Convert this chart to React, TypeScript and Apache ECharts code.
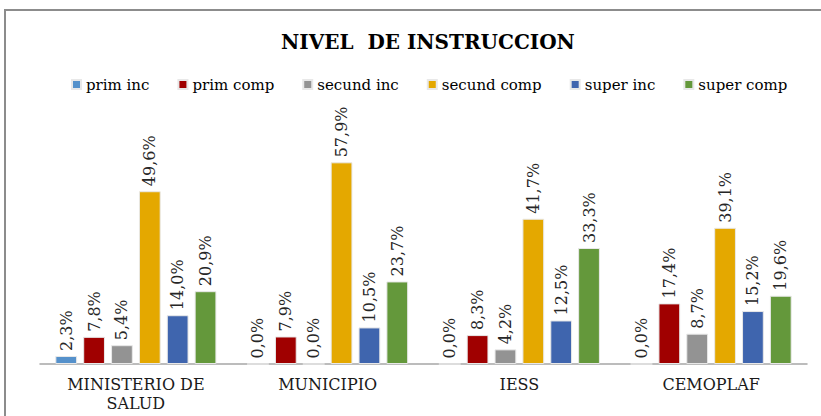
import React, { useEffect, useRef } from "react";
import * as echarts from "echarts";

const categories = ["MINISTERIO DE\nSALUD", "MUNICIPIO", "IESS", "CEMOPLAF"];
const seriesNames = ["prim inc", "prim comp", "secund inc", "secund comp", "super inc", "super comp"];
const primInc = [2.3, 0.0, 0.0, 0.0];
const primComp = [7.8, 7.9, 8.3, 17.4];
const secundInc = [5.4, 0.0, 4.2, 8.7];
const secundComp = [49.6, 57.9, 41.7, 39.1];
const superInc = [14.0, 10.5, 12.5, 15.2];
const superComp = [20.9, 23.7, 33.3, 19.6];
const colors = ["#5591CB", "#A00000", "#939393", "#E4A800", "#3F65AE", "#64983B"];

export default function App() {
  const ref = useRef<HTMLDivElement>(null);
  useEffect(() => {
    const chart = echarts.init(ref.current!, null, { renderer: "svg" });
    const data = [primInc, primComp, secundInc, secundComp, superInc, superComp];
    const font = "DejaVu Serif";
    chart.setOption({
      animation: false,
      backgroundColor: "#ffffff",
      textStyle: { fontFamily: font },
      title: {
        text: "NIVEL  DE INSTRUCCION",
        left: 276,
        top: 27,
        textStyle: { fontFamily: font, fontWeight: "bold", fontSize: 20, color: "#000" },
      },
      legend: {
        top: 72,
        left: 66,
        itemWidth: 9,
        itemHeight: 9,
        itemGap: 28,
        icon: "rect",
        textStyle: { fontFamily: font, fontSize: 15, color: "#000" },
        data: seriesNames,
      },
      grid: { left: 40, right: 14, top: 155, bottom: 52 },
      xAxis: {
        type: "category",
        data: categories,
        axisTick: { show: false },
        axisLine: { lineStyle: { color: "#a6a6a6", width: 1.5 } },
        axisLabel: { fontFamily: font, fontSize: 16, color: "#1a1a1a", lineHeight: 19, margin: 11 },
      },
      yAxis: { type: "value", min: 0, max: 60, show: false },
      graphic: [
        {
          type: "rect",
          shape: { x: 5, y: 10, width: 900, height: 500 },
          style: { fill: "none", stroke: "#8c8c8c", lineWidth: 2 },
          silent: true,
        },
      ],
      series: seriesNames.map((name, i) => ({
        name,
        type: "bar",
        data: data[i],
        barGap: "28%",
        barCategoryGap: "16%",
        itemStyle: { color: colors[i], borderColor: "#e8e8e8", borderWidth: 1 },
        label: {
          show: true,
          position: "top",
          rotate: 90,
          align: "left",
          verticalAlign: "middle",
          distance: 5,
          fontFamily: font,
          fontSize: 16,
          color: "#262626",
          formatter: (p: any) => p.value.toFixed(1).replace(".", ",") + "%",
        },
      })),
    });
    return () => chart.dispose();
  }, []);
  return <div ref={ref} style={{ position: "fixed", left: 0, top: 0, width: 821, height: 416 }} />;
}
